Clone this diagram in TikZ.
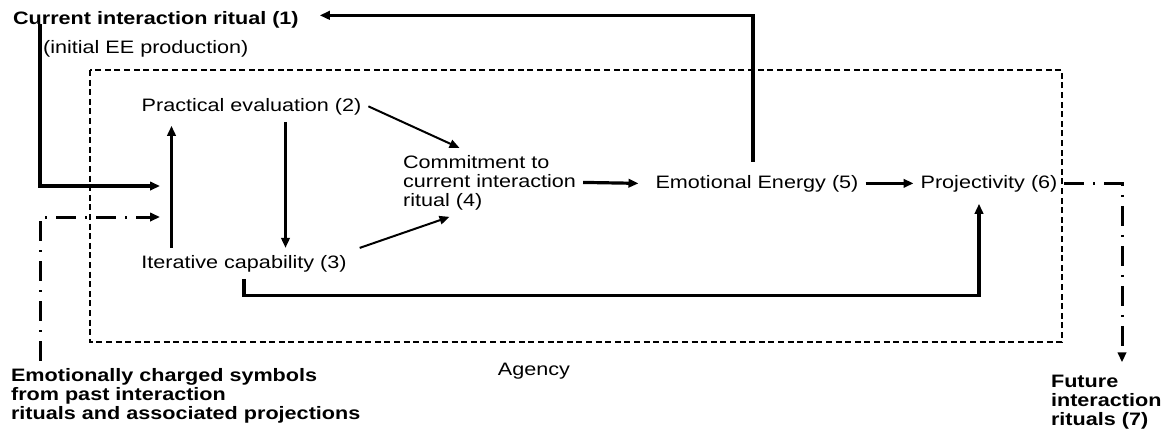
\documentclass[tikz,border=0pt]{standalone}
\usepackage{fontspec}
\setmainfont{Liberation Sans}[FakeStretch=1.2]
\usetikzlibrary{arrows.meta, calc, positioning}

\begin{document}
\begin{tikzpicture}[
        x=0.5pt, y=-0.5pt,
        font=\fontsize{9pt}{9.5pt}\selectfont,
        tip/.style={-{Triangle[length=5pt, width=4.2pt]}},
        thk/.style={line width=1.6pt},
        thn/.style={line width=1pt},
        dashdot/.style={line width=1.5pt, dash pattern=on 10pt off 4.5pt on 1pt off 4.5pt},
        agencybox/.style={line width=0.6pt, dash pattern=on 3pt off 1.8pt},
        blbl/.style={font=\fontsize{9pt}{9.5pt}\selectfont\bfseries, align=left},
    ]
    \useasboundingbox (0,0) rectangle (1176,436);

    %% ---- Agency frame ----
    \draw[agencybox] (90,70) rectangle (1062,342);
    \node[anchor=base] (ag) at (534,375) {Agency};

    %% ---- Outside nodes ----
    \node[font=\fontsize{9pt}{9.5pt}\selectfont\bfseries, anchor=base west] (n1) at (6,24)
        {Current interaction ritual (1)};
    \node[anchor=base west] (ee0) at (36,53) {(initial EE production)};
    \node[blbl, anchor=west] (sy) at (4,395.4)
        {Emotionally charged symbols\\from past interaction\\rituals and associated projections};
    \node[blbl, anchor=west] (fu) at (1044,402.4) {Future\\interaction\\rituals (7)};

    %% ---- Inside nodes ----
    \node[anchor=base] (pe) at (251.5,111) {Practical evaluation (2)};
    \node[anchor=base] (ic) at (244,268) {Iterative capability (3)};
    \node[anchor=west, align=left] (cm) at (396,182.4)
        {Commitment to\\current interaction\\ritual (4)};
    \node[anchor=base] (en) at (757,188) {Emotional Energy (5)};
    \node[anchor=base] (pr) at (989,188) {Projectivity (6)};

    %% ---- Helper points ----
    \coordinate (n1-r) at ([xshift=7pt, yshift=2pt]n1.east);
    \coordinate (n1-d) at ([xshift=17pt]n1.base west);
    \coordinate (sy-u) at ([xshift=18pt]sy.north west);
    \coordinate (in1) at (160,186);
    \coordinate (in2) at (160,217);
    \coordinate (pe-l) at ([xshift=-40pt, yshift=-2pt]pe.south);
    \coordinate (pe-r) at ([xshift=17pt]pe.south);
    \coordinate (en-t) at ([xshift=-2pt, yshift=3pt]en.north);
    \coordinate (pr-b) at ([xshift=-5pt, yshift=-2.5pt]pr.south);
    \coordinate (fu-t) at ([xshift=39pt, yshift=3pt]fu.north west);

    %% ---- Inputs ----
    \draw[thk, tip] (n1-d) |- (in1);
    \draw[dashdot, tip] (sy-u) |- (in2);

    %% ---- Evaluation and capability ----
    \draw[thk, tip] (pe-l |- ic.north) -- (pe-l);
    \draw[thk, tip] (pe-r) -- (pe-r |- ic.north);
    \draw[thn, tip] (pe.east) -- ([xshift=-15pt]cm.north);
    \draw[thn, tip] ([xshift=3pt]ic.north east) -- ([xshift=-20pt]cm.south);

    %% ---- Chain to projectivity ----
    \draw[thk, tip] (cm.east) -- ([xshift=-5pt]en.west);
    \draw[thk, tip] (en.east) -- (pr.west);
    \draw[thk, tip] (ic.south) -- ++(0,17) -| (pr-b);

    %% ---- Feedback and output ----
    \draw[thk, tip] (en-t) |- (n1-r);
    \draw[dashdot, tip] (pr.east) -| (fu-t);

\end{tikzpicture}
\end{document}
